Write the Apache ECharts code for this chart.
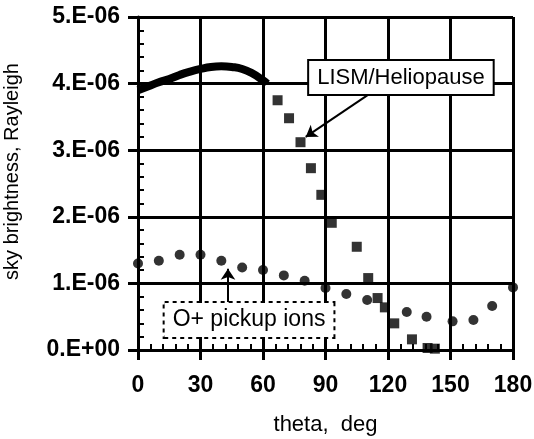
<!DOCTYPE html>
<html>
<head>
<meta charset="utf-8">
<script src="https://cdn.jsdelivr.net/npm/echarts@6/dist/echarts.min.js"></script>
<style>
  html, body { margin: 0; padding: 0; background: #fff; }
  #chart { width: 534px; height: 439px; }
</style>
</head>
<body>
<div id="chart"></div>
<script>
// values are in units of 1e-6 Rayleigh
const yTickLabels = ['0.E+00', '1.E-06', '2.E-06', '3.E-06', '4.E-06', '5.E-06']
const xTicks = [0, 30, 60, 90, 120, 150, 180]

// LISM/Heliopause, dense part drawn as a thick curve
const lismCurveTheta = [0, 5, 10, 15, 20, 25, 30, 35, 40, 45, 50, 55, 60, 62]
const lismCurveVals = [3.9, 3.96, 4.02, 4.07, 4.13, 4.18, 4.22, 4.25, 4.26, 4.25, 4.22, 4.15, 4.05, 4.0]

// LISM/Heliopause, separate squares
const lismTheta = [67, 72.5, 78, 83, 88, 93, 105, 110.5, 115, 118.5, 123, 131.5, 139, 142.5]
const lismVals = [3.75, 3.48, 3.12, 2.73, 2.33, 1.91, 1.55, 1.08, 0.78, 0.64, 0.4, 0.16, 0.03, 0.02]

// O+ pickup ions
const ionTheta = [0, 10, 20, 30, 40, 50, 60, 70, 80, 90, 100, 110, 129, 138.5, 151, 161, 170, 180]
const ionVals = [1.3, 1.34, 1.43, 1.43, 1.34, 1.24, 1.2, 1.12, 1.04, 0.93, 0.84, 0.75, 0.57, 0.5, 0.43, 0.45, 0.66, 0.94]

const zip = (xs, ys) => xs.map((x, i) => [x, ys[i]])

const font = 'Arial, "Liberation Sans", sans-serif'

const chart = echarts.init(document.getElementById('chart'))

// second axes only carry the inward minor ticks
const minorAxis = {
    min: 0,
    axisLine: { show: false },
    axisLabel: { show: false },
    axisTick: { show: true, inside: true, length: 1, lineStyle: { color: '#000', width: 2 } },
    splitLine: { show: false },
    minorTick: { show: true, splitNumber: 5, length: 6, lineStyle: { color: '#000', width: 2 } }
}

const option = {
    animation: false,
    backgroundColor: '#fff',
    grid: { left: 138, right: 21, top: 17, bottom: 89, outerBoundsMode: 'none', containLabel: false },
    xAxis: [
        {
            type: 'value', min: 0, max: 180, interval: 30,
            name: 'theta,  deg', nameLocation: 'middle', nameGap: 64,
            nameTextStyle: { fontFamily: font, fontSize: 22, color: '#000' },
            axisLine: { lineStyle: { color: '#000', width: 3 } },
            axisTick: { length: 10, lineStyle: { color: '#000', width: 3 } },
            axisLabel: { margin: 24, fontFamily: font, fontSize: 23, fontWeight: 'bold', color: '#000',
                formatter: v => xTicks.includes(v) ? String(v) : '' },
            splitLine: { lineStyle: { color: '#000', width: 3 } }
        },
        Object.assign({ type: 'value', max: 180, interval: 30, position: 'bottom' }, minorAxis)
    ],
    yAxis: [
        {
            type: 'value', min: 0, max: 5, interval: 1,
            name: 'sky brightness, Rayleigh', nameLocation: 'middle', nameGap: 116,
            nameTextStyle: { fontFamily: font, fontSize: 20, color: '#000', padding: [0, 0, 0, 24] },
            axisLine: { lineStyle: { color: '#000', width: 3 } },
            axisTick: { length: 10, lineStyle: { color: '#000', width: 3 } },
            axisLabel: { margin: 18, fontFamily: font, fontSize: 23, fontWeight: 'bold', color: '#000',
                formatter: v => yTickLabels[Math.round(v)] },
            splitLine: { lineStyle: { color: '#000', width: 3 } }
        },
        Object.assign({ type: 'value', max: 5, interval: 1, position: 'left' }, minorAxis)
    ],
    series: [
        {
            name: 'LISM curve',
            type: 'line',
            smooth: true,
            showSymbol: false,
            data: zip(lismCurveTheta, lismCurveVals),
            lineStyle: { color: '#000', width: 8 },
            z: 3
        },
        {
            name: 'LISM/Heliopause',
            type: 'scatter',
            symbol: 'rect',
            symbolSize: 10,
            itemStyle: { color: '#000' },
            data: zip(lismTheta, lismVals),
            z: 3,
            markLine: {
                silent: true,
                symbol: ['none', 'arrow'],
                symbolSize: 11,
                lineStyle: { color: '#000', width: 2, type: 'solid' },
                label: { show: false },
                data: [
                    [{ coord: [110.4, 3.83] }, { coord: [80.5, 3.2] }],
                    [{ coord: [43.2, 0.72] }, { coord: [43.2, 1.22] }]
                ]
            },
            markPoint: {
                silent: true,
                symbolSize: 0,
                data: [
                    { coord: [126.2, 4.09], label: { formatter: 'LISM/Heliopause', borderType: 'solid' } },
                    { coord: [53.3, 0.45], label: { formatter: 'O+ pickup ions', borderType: 'dotted', fontSize: 23 } }
                ],
                label: {
                    show: true, position: 'inside',
                    fontFamily: font, fontSize: 22, color: '#000',
                    backgroundColor: '#fff', borderColor: '#000', borderWidth: 2,
                    padding: [6, 8, 5, 8]
                }
            }
        },
        {
            name: 'O+ pickup ions',
            type: 'scatter',
            xAxisIndex: 1,
            yAxisIndex: 1,
            symbol: 'circle',
            symbolSize: 10,
            itemStyle: { color: '#000' },
            data: zip(ionTheta, ionVals),
            z: 3
        }
    ]
}

chart.setOption(option)
</script>
</body>
</html>
